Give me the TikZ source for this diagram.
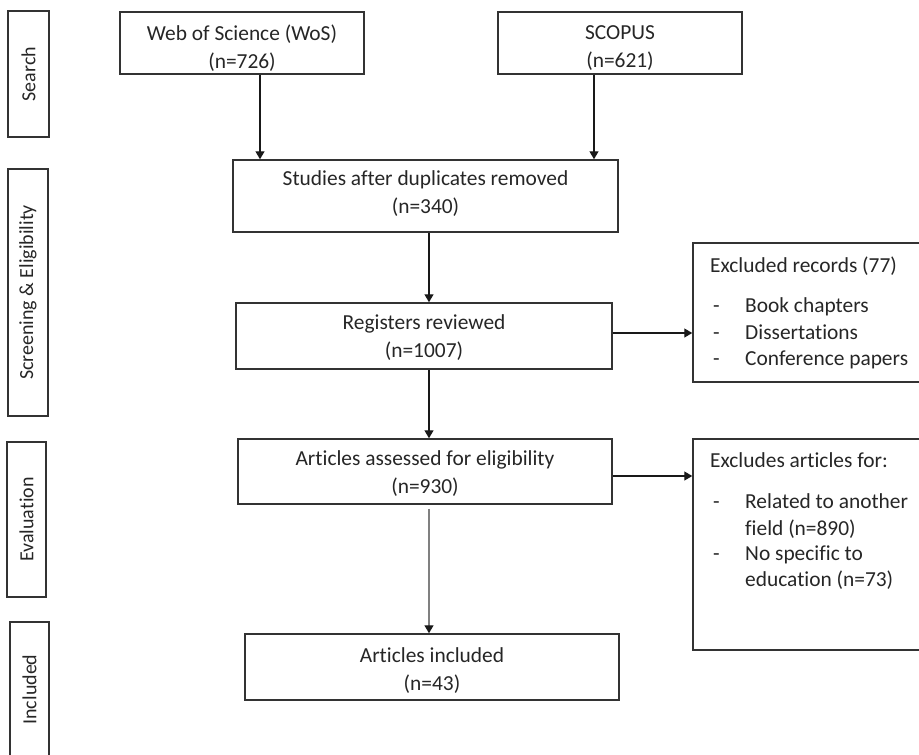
\documentclass[tikz,border=0pt]{standalone}
\usepackage{fontspec}
\setmainfont{Carlito}[Ligatures={NoCommon}]
\usetikzlibrary{arrows.meta,calc}
\definecolor{txt}{HTML}{262626}
\definecolor{ln}{HTML}{333333}
\begin{document}
\begin{tikzpicture}[x=1pt,y=-1pt,
  box/.style={draw=ln, line width=1.5pt, inner sep=0pt},
  boxtxt/.style={align=center, inner sep=0pt, text=txt,
    font=\fontsize{21.4}{28}\selectfont},
  sidebox/.style={draw=ln, line width=1.5pt, rotate=90, inner sep=0pt, text=txt,
    font=\fontsize{20}{24}\selectfont},
  itemtxt/.style={text=txt, inner sep=0pt, font=\fontsize{21.4}{26}\selectfont},
  arr/.style={draw=black!90, line width=1.4pt, -{Triangle[width=9pt,length=8pt]}},
  grayarr/.style={draw=gray, line width=1.4pt, -{Triangle[width=9pt,length=8pt,black!90]}}
]
\useasboundingbox (0,0) rectangle (919,755);
\clip (0,0) rectangle (919,755);

% side stage boxes
\node[sidebox, minimum width=126pt, minimum height=41pt] (sSearch) at (28.5,74) {Search};
\node[sidebox, minimum width=247pt, minimum height=40pt] (sScreen) at (28,292.5) {Screening \& Eligibility};
\node[sidebox, minimum width=155pt, minimum height=39pt] (sEval) at (26.5,519.5) {Evaluation};
\node[sidebox, minimum width=135pt, minimum height=39pt] (sIncl) at (29.5,689.5) {Included};

% main boxes
\node[box, minimum width=244pt, minimum height=62pt] (wos) at (242,43) {};
\node[box, minimum width=244pt, minimum height=62pt] (scopus) at (620,43) {};
\node[box, minimum width=385pt, minimum height=72pt] (studies) at (425.5,196) {};
\node[box, minimum width=376pt, minimum height=66pt] (reg) at (424,336) {};
\node[box, minimum width=374pt, minimum height=65pt] (assess) at (425,471.5) {};
\node[box, minimum width=374pt, minimum height=66pt] (incl) at (432,667) {};

\node[boxtxt] (wosT) at ($(wos.center)+(0,5)$) {Web of Science (WoS)\\(n=726)};
\node[boxtxt] (scopusT) at ($(scopus.center)+(0,5)$) {SCOPUS\\(n=621)};
\node[boxtxt] (studiesT) at ($(studies.center)+(0,-2)$) {Studies after duplicates removed\\(n=340)};
\node[boxtxt] (regT) at ($(reg.center)+(0,2)$) {Registers reviewed\\(n=1007)};
\node[boxtxt] (assessT) at ($(assess.center)+(0,2.5)$) {Articles assessed for eligibility\\(n=930)};
\node[boxtxt] (inclT) at ($(incl.center)+(0,3.5)$) {Articles included\\(n=43)};

% exclusion boxes
\node[box, minimum width=240pt, minimum height=139pt] (exc1) at (813,312.5) {};
\node[box, minimum width=240pt, minimum height=211pt] (exc2) at (813,544.5) {};

\node[itemtxt, anchor=mid west] (e1t) at (710,270.5) {Excluded records (77)};
\node[itemtxt, anchor=mid west] (e1d1) at (713,310.5) {-};
\node[itemtxt, anchor=mid west] (e1i1) at (745,310.5) {Book chapters};
\node[itemtxt, anchor=mid west] (e1d2) at (713,337.5) {-};
\node[itemtxt, anchor=mid west] (e1i2) at (745,337.5) {Dissertations};
\node[itemtxt, anchor=mid west] (e1d3) at (713,363.5) {-};
\node[itemtxt, anchor=mid west] (e1i3) at (745,363.5) {Conference papers};

\node[itemtxt, anchor=mid west] (e2t) at (710,465) {Excludes articles for:};
\node[itemtxt, anchor=mid west] (e2d1) at (713,506) {-};
\node[itemtxt, anchor=mid west] (e2i1) at (745,506) {Related to another};
\node[itemtxt, anchor=mid west] (e2i1b) at (745,533) {field (n=890)};
\node[itemtxt, anchor=mid west] (e2d2) at (713,558) {-};
\node[itemtxt, anchor=mid west] (e2i2) at (745,558) {No specific to};
\node[itemtxt, anchor=mid west] (e2i2b) at (745,584) {education (n=73)};

% connectors
\coordinate (col) at (429,0);
\draw[arr] ([xshift=18pt]wos.south) -- ([xshift=18pt]wos.south |- studies.north);
\draw[arr] ([xshift=-26pt]scopus.south) -- ([xshift=-26pt]scopus.south |- studies.north);
\draw[arr] (studies.south -| col) -- (reg.north -| col);
\draw[arr] (reg.south -| col) -- (assess.north -| col);
\draw[grayarr] ([yshift=-4pt]assess.south -| col) -- (incl.north -| col);
\draw[arr] ([yshift=3pt]reg.east) -- ([yshift=3pt]reg.east -| exc1.west);
\draw[arr] ([yshift=-4.5pt]assess.east) -- ([yshift=-4.5pt]assess.east -| exc2.west);
\end{tikzpicture}
\end{document}
